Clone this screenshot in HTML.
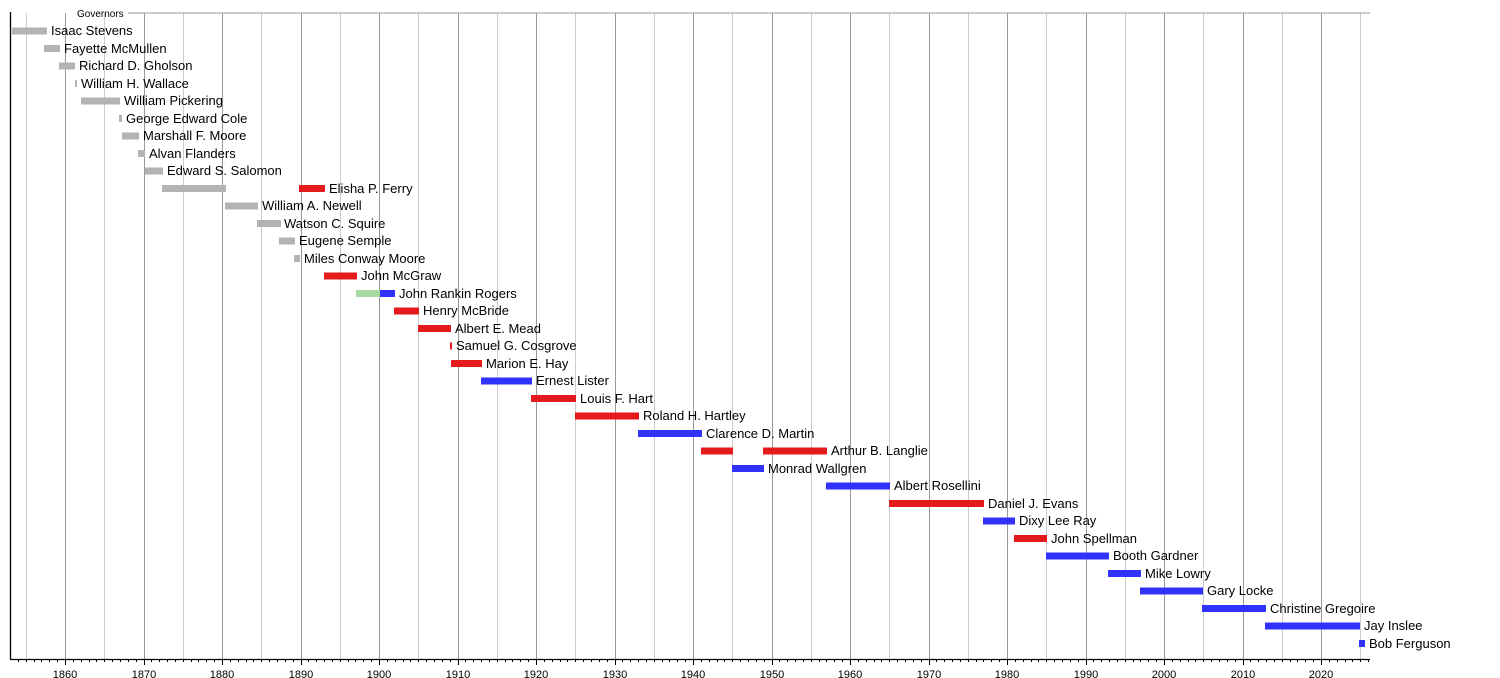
<!DOCTYPE html>
<html><head><meta charset="utf-8"><style>
html,body{margin:0;padding:0;background:#fff;}
svg{display:block;font-family:"Liberation Sans",sans-serif;}
.l{font-size:13px;fill:#000;}
.t{font-size:11px;fill:#000;text-anchor:middle;}
</style></head><body>
<svg id="s" width="1500" height="678" xmlns="http://www.w3.org/2000/svg">
<g id="grid"></g>
<line x1="128" y1="13" x2="1370" y2="13" stroke="#999" stroke-width="1"/>
<text x="77" y="17" style="font-size:10px">Governors</text>
<g id="bars"></g>
<g class="l">
<text x="51" y="35">Isaac Stevens</text>
<text x="64" y="53">Fayette McMullen</text>
<text x="79" y="70">Richard D. Gholson</text>
<text x="81" y="88">William H. Wallace</text>
<text x="124" y="105">William Pickering</text>
<text x="126" y="123">George Edward Cole</text>
<text x="143" y="140">Marshall F. Moore</text>
<text x="149" y="158">Alvan Flanders</text>
<text x="167" y="175">Edward S. Salomon</text>
<text x="329" y="193">Elisha P. Ferry</text>
<text x="262" y="210">William A. Newell</text>
<text x="284" y="228">Watson C. Squire</text>
<text x="299" y="245">Eugene Semple</text>
<text x="304" y="263">Miles Conway Moore</text>
<text x="361" y="280">John McGraw</text>
<text x="399" y="298">John Rankin Rogers</text>
<text x="423" y="315">Henry McBride</text>
<text x="455" y="333">Albert E. Mead</text>
<text x="456" y="350">Samuel G. Cosgrove</text>
<text x="486" y="368">Marion E. Hay</text>
<text x="536" y="385">Ernest Lister</text>
<text x="580" y="403">Louis F. Hart</text>
<text x="643" y="420">Roland H. Hartley</text>
<text x="706" y="438">Clarence D. Martin</text>
<text x="831" y="455">Arthur B. Langlie</text>
<text x="768" y="473">Monrad Wallgren</text>
<text x="894" y="490">Albert Rosellini</text>
<text x="988" y="508">Daniel J. Evans</text>
<text x="1019" y="525">Dixy Lee Ray</text>
<text x="1051" y="543">John Spellman</text>
<text x="1113" y="560">Booth Gardner</text>
<text x="1145" y="578">Mike Lowry</text>
<text x="1207" y="595">Gary Locke</text>
<text x="1270" y="613">Christine Gregoire</text>
<text x="1364" y="630">Jay Inslee</text>
<text x="1369" y="648">Bob Ferguson</text>
</g>
<g>
<text class="t" x="65" y="678">1860</text>
<text class="t" x="144" y="678">1870</text>
<text class="t" x="222" y="678">1880</text>
<text class="t" x="301" y="678">1890</text>
<text class="t" x="379" y="678">1900</text>
<text class="t" x="458" y="678">1910</text>
<text class="t" x="536" y="678">1920</text>
<text class="t" x="615" y="678">1930</text>
<text class="t" x="693" y="678">1940</text>
<text class="t" x="772" y="678">1950</text>
<text class="t" x="850" y="678">1960</text>
<text class="t" x="929" y="678">1970</text>
<text class="t" x="1007" y="678">1980</text>
<text class="t" x="1086" y="678">1990</text>
<text class="t" x="1164" y="678">2000</text>
<text class="t" x="1243" y="678">2010</text>
<text class="t" x="1321" y="678">2020</text>
</g>
</svg>
<script>
var NS="http://www.w3.org/2000/svg";
function el(p,n,a){var e=document.createElementNS(NS,n);for(var k in a)e.setAttribute(k,a[k]);p.appendChild(e);return e;}
var g=document.getElementById('grid');
function X(y){return 65+(y-1860)*7.85;}
for(var y=1855;y<=2025;y+=5){var x=Math.round(X(y))+0.5;el(g,'line',{x1:x,y1:13,x2:x,y2:659,stroke:y%10==0?'#999':'#ccc','stroke-width':1});}
el(g,'line',{x1:10.5,y1:12,x2:10.5,y2:659,stroke:'#000','stroke-width':1.3});
el(g,'line',{x1:10,y1:659.5,x2:1370,y2:659.5,stroke:'#000','stroke-width':1.3});
for(var y=1854;y<=2026;y++){var x=Math.round(X(y))+0.5;el(g,'line',{x1:x,y1:659,x2:x,y2:y%10==0?665:662,stroke:'#000','stroke-width':1});}
var G='#b3b3b3',R='#e41a1c',B='#3232ff',N='#a8dba3';
var bars=[[0,12,47,G],[1,44,60,G],[2,59,75,G],[3,75,77,G],[4,81,120,G],[5,119,122,G],[6,122,139,G],[7,138,145,G],[8,145,163,G],[9,162,226,G],[9,299,325,R],[10,225,258,G],[11,257,281,G],[12,279,295,G],[13,294,300,G],[14,324,357,R],[15,356,380,N],[15,380,395,B],[16,394,419,R],[17,418,451,R],[18,450,452,R],[19,451,482,R],[20,481,532,B],[21,531,576,R],[22,575,639,R],[23,638,702,B],[24,701,733,R],[24,763,827,R],[25,732,764,B],[26,826,890,B],[27,889,984,R],[28,983,1015,B],[29,1014,1047,R],[30,1046,1109,B],[31,1108,1141,B],[32,1140,1203,B],[33,1202,1266,B],[34,1265,1360,B],[35,1359,1365,B]];
var b=document.getElementById('bars');
bars.forEach(function(r){var cy=31+r[0]*17.5;el(b,'rect',{x:r[1],y:cy-3.5,width:r[2]-r[1],height:7,fill:r[3]});});
</script>
</body></html>
